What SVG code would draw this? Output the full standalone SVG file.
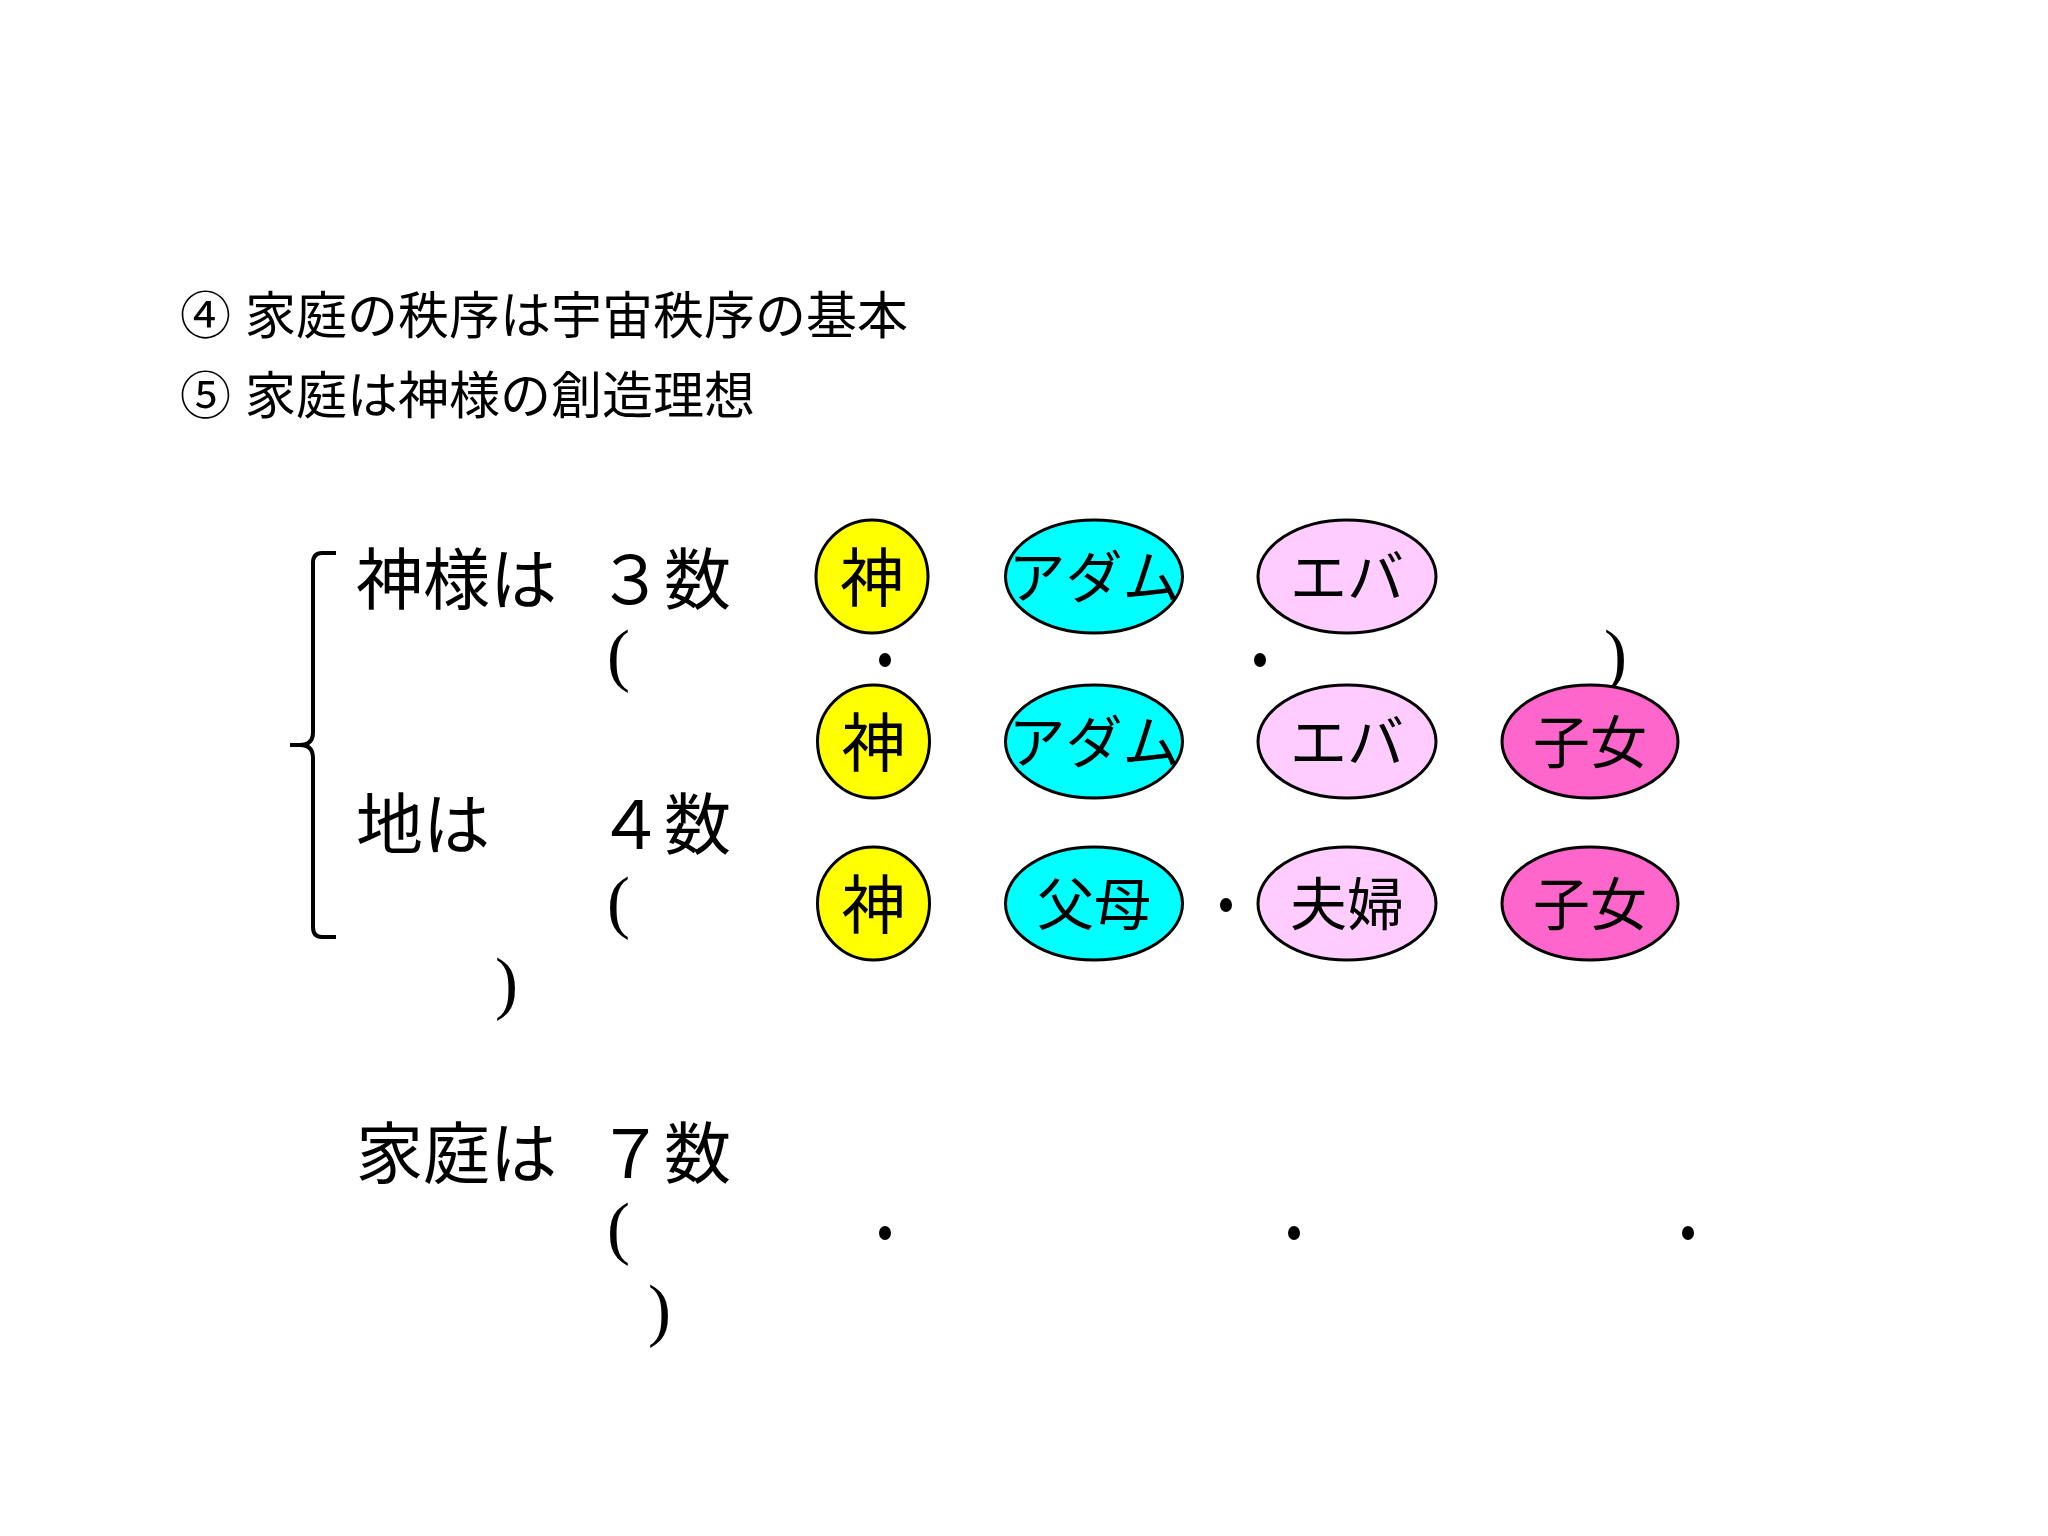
<svg xmlns="http://www.w3.org/2000/svg" width="2048" height="1536" viewBox="0 0 2048 1536">
<style>
.t{font-family:"Liberation Serif","Noto Sans CJK JP",serif;fill:#000}
.h{font-size:51px}
.m{font-size:67px}
.p{font-family:"Liberation Serif",serif;font-size:69px;fill:#000}
.lbl{font-family:"Noto Sans CJK JP",sans-serif;font-size:57px;fill:#000;text-anchor:middle}
.god{font-size:64px}
.n{stroke:#000;stroke-width:3}
.y{fill:#FFFF00}.c{fill:#00FFFF}.pk{fill:#FFCCFF}.hp{fill:#FF66CC}
.dot{fill:#000}
</style>
<rect width="2048" height="1536" fill="#fff"/>
<g id="title">
<text class="t h" y="334"><tspan x="180">④</tspan><tspan x="245">家庭の秩序は宇宙秩序の基本</tspan></text>
<text class="t h" y="414"><tspan x="180">⑤</tspan><tspan x="245">家庭は神様の創造理想</tspan></text>
</g>
<g id="bracket">
<path d="M336 553 L322 553 Q313 553 313 563 L313 732 Q313 745 300 745 L290 745 M300 745 Q313 745 313 758 L313 927 Q313 937 322 937 L336 937" fill="none" stroke="#000" stroke-width="4"/>
</g>
<g id="labels">
<text class="t m" x="356" y="604">神様は</text>
<text class="t m" x="597" y="604">３数</text>
<text class="t m" x="356" y="849">地は</text>
<text class="t m" x="597" y="849">４数</text>
<text class="t m" x="356" y="1178">家庭は</text>
<text class="t m" x="597" y="1178">７数</text>
</g>
<g id="parens">
<text class="p" x="607" y="678">(</text>
<text class="p" x="1604" y="678">)</text>
<text class="p" x="607" y="925">(</text>
<text class="p" x="495" y="1006">)</text>
<text class="p" x="607" y="1251">(</text>
<text class="p" x="648" y="1333">)</text>
</g>
<g id="dots">
<ellipse class="dot" cx="885" cy="660" rx="6" ry="7"/>
<ellipse class="dot" cx="1260" cy="660" rx="6" ry="7"/>
<ellipse class="dot" cx="1226" cy="905" rx="6" ry="7"/>
<ellipse class="dot" cx="885" cy="1233" rx="6" ry="7"/>
<ellipse class="dot" cx="1294" cy="1233" rx="6" ry="7"/>
<ellipse class="dot" cx="1688" cy="1233" rx="6" ry="7"/>
</g>
<g id="r1-god"><ellipse class="n y" cx="872" cy="576.5" rx="56" ry="56.5"/><text class="lbl god" x="872" y="601">神</text></g>
<g id="r1-adam"><ellipse class="n c" cx="1094" cy="576.5" rx="88.5" ry="56.5"/><text class="lbl" x="1094" y="598">アダム</text></g>
<g id="r1-eve"><ellipse class="n pk" cx="1347" cy="576.5" rx="89" ry="56.5"/><text class="lbl" x="1347" y="598">エバ</text></g>
<g id="r2-god"><ellipse class="n y" cx="873.5" cy="741.5" rx="56" ry="56.5"/><text class="lbl god" x="873.5" y="766">神</text></g>
<g id="r2-adam"><ellipse class="n c" cx="1094" cy="741.5" rx="88.5" ry="56.5"/><text class="lbl" x="1094" y="763">アダム</text></g>
<g id="r2-eve"><ellipse class="n pk" cx="1347" cy="741.5" rx="89" ry="56.5"/><text class="lbl" x="1347" y="763">エバ</text></g>
<g id="r2-children"><ellipse class="n hp" cx="1590" cy="741.5" rx="88" ry="56.5"/><text class="lbl" x="1590" y="763">子女</text></g>
<g id="r3-god"><ellipse class="n y" cx="873.5" cy="903.5" rx="56" ry="56.5"/><text class="lbl god" x="873.5" y="928">神</text></g>
<g id="r3-parents"><ellipse class="n c" cx="1094" cy="903.5" rx="88.5" ry="56.5"/><text class="lbl" x="1094" y="925">父母</text></g>
<g id="r3-couple"><ellipse class="n pk" cx="1347" cy="903.5" rx="89" ry="56.5"/><text class="lbl" x="1347" y="925">夫婦</text></g>
<g id="r3-children"><ellipse class="n hp" cx="1590" cy="903.5" rx="88" ry="56.5"/><text class="lbl" x="1590" y="925">子女</text></g>
</svg>
